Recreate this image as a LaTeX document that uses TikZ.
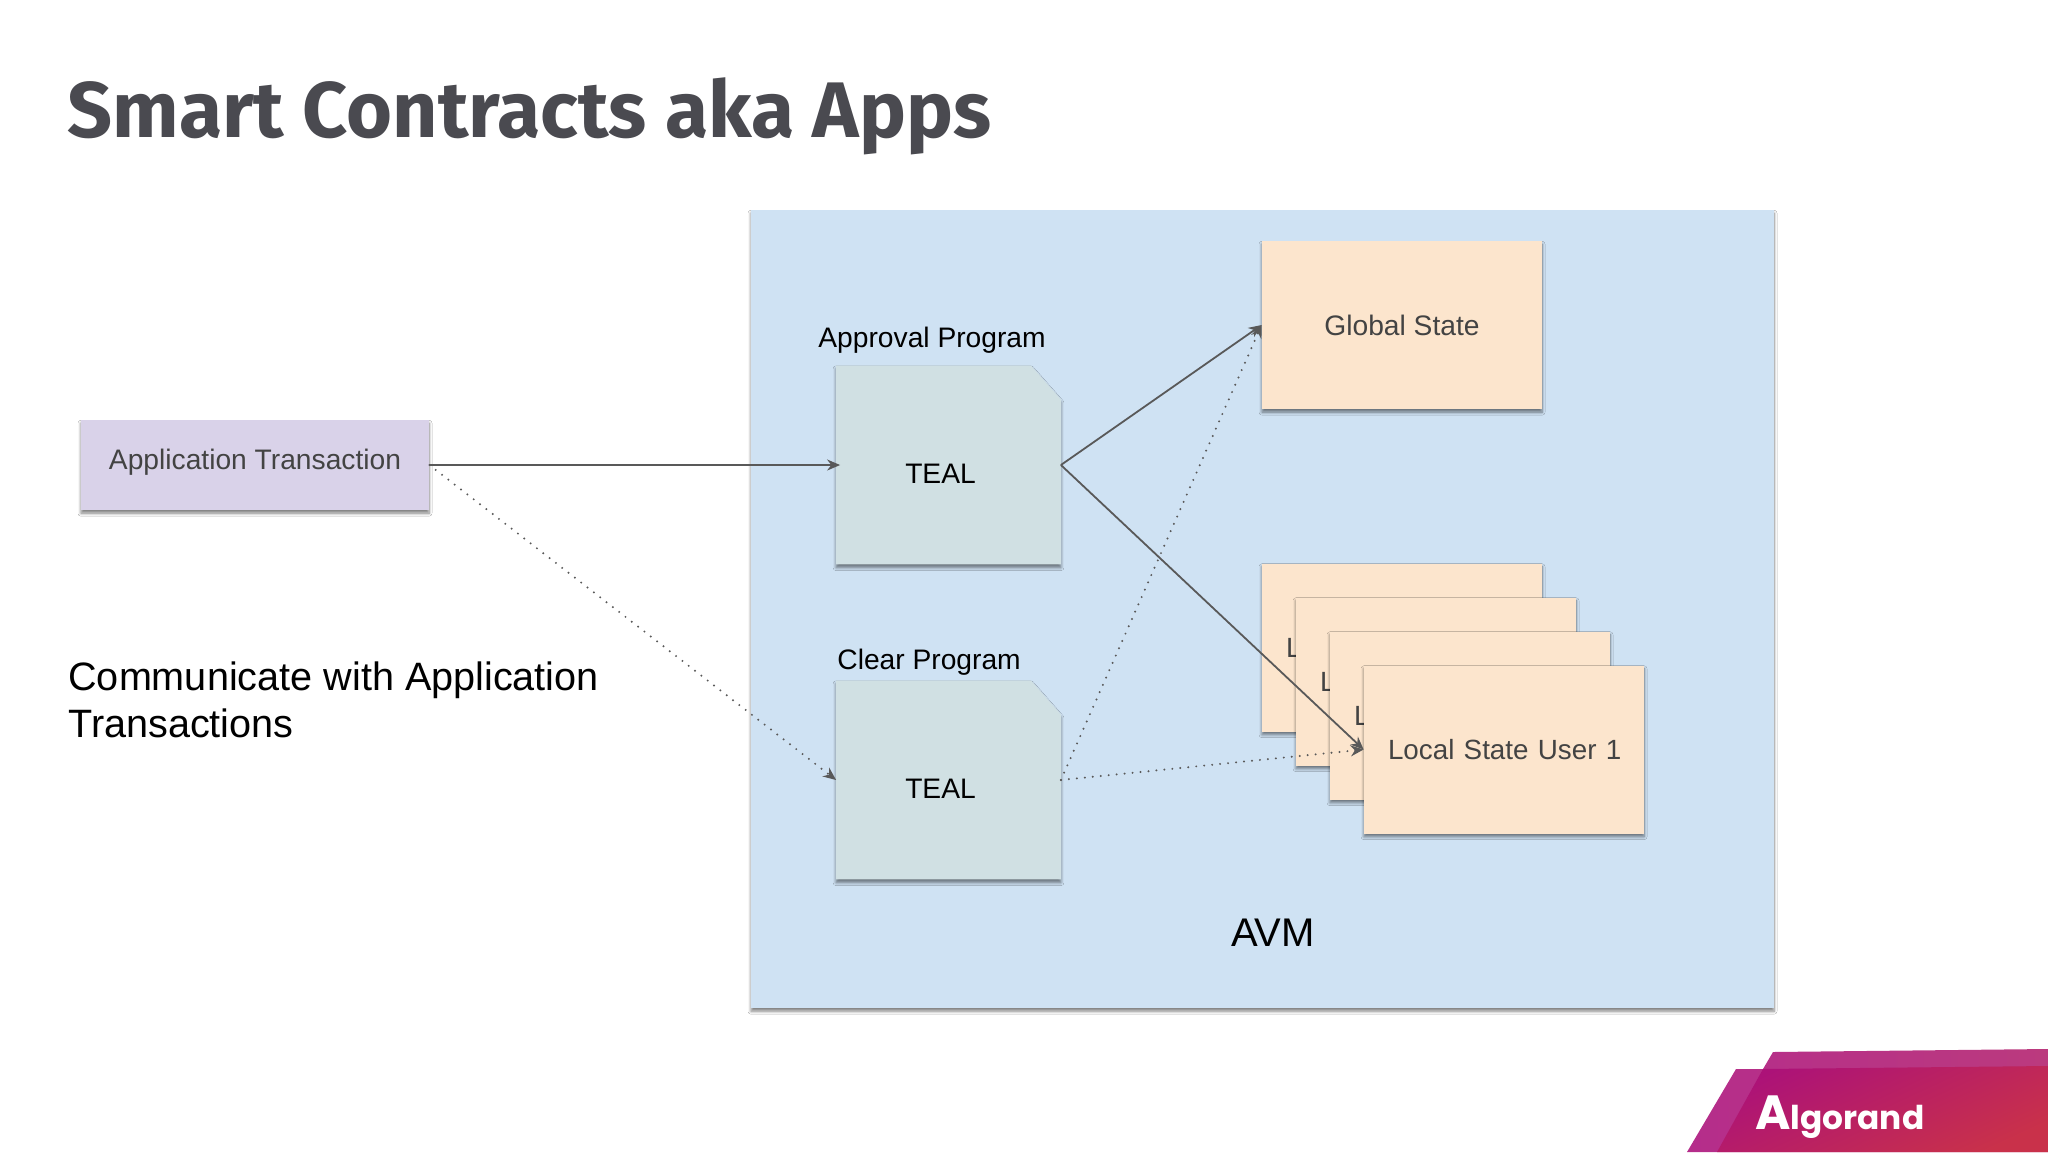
\documentclass[tikz,border=0pt]{standalone}
\usepackage{fontspec}
\setmainfont{Liberation Sans}
\newfontfamily\titlefont{Fira Sans}
\newfontfamily\logofont{Poppins}
\usetikzlibrary{calc}
\usetikzlibrary{positioning}
\usetikzlibrary{arrows.meta}
\usetikzlibrary{shadows.blur}
\definecolor{avmblue}{HTML}{CFE2F3}
\definecolor{txpurple}{HTML}{D9D2E9}
\definecolor{docgreen}{HTML}{D0E0E3}
\definecolor{statepeach}{HTML}{FCE5CD}
\definecolor{boxtext}{HTML}{434343}
\definecolor{titlegray}{HTML}{4A4A50}
\definecolor{arrowgray}{HTML}{595959}
\definecolor{bandtop}{HTML}{B52D8B}
\definecolor{bandend}{HTML}{BB3A7E}
\definecolor{logotop}{HTML}{AC1278}
\definecolor{logomid}{HTML}{B91E66}
\definecolor{logoend}{HTML}{C9314A}
\tikzset{
	softshadow/.style={blur shadow={shadow xshift=0pt, shadow yshift=-1.6pt, shadow blur radius=1.5pt, shadow blur steps=6, shadow opacity=50}},
	flow/.style={draw=arrowgray, line width=0.9pt, -{Stealth[length=6.5pt, width=5.5pt]}},
	dotflow/.style={flow, line width=1.1pt, line cap=round, dash pattern=on 0pt off 4pt},
	plaintext/.style={inner sep=0pt, text=black}
}
\begin{document}
\begin{tikzpicture}[x=0.5pt, y=-0.5pt, font=\fontsize{14.1}{17}\selectfont]
	\tikzstyle{panel}=[rectangle, fill=avmblue, minimum width=511.5pt, minimum height=399pt, inner sep=0pt, softshadow]
	\tikzstyle{txbox}=[rectangle, fill=txpurple, text=boxtext, minimum width=174pt, minimum height=45pt, inner sep=0pt, text depth=5.6pt, softshadow]
	\tikzstyle{docbox}=[rectangle, minimum width=112pt, minimum height=99pt, inner sep=0pt]
	\tikzstyle{statebox}=[rectangle, fill=statepeach, text=boxtext, minimum width=140pt, minimum height=84pt, inner sep=0pt, softshadow]
	\tikzstyle{localbox}=[statebox, align=left, text width=116pt, font=\fontsize{13.9}{17}\selectfont]

	\useasboundingbox (0,0) rectangle (2048,1152);
	\fill[white] (0,0) rectangle (2048,1152);

	\node[anchor=base west, inner sep=0pt, text=titlegray, font=\titlefont\bfseries\fontsize{39.4}{47}\selectfont] (title) at (67,137) {Smart Contracts aka Apps};

	\node[panel] (avm) at (1262.5,609) {};
	\node[plaintext, font=\fontsize{20}{24}\selectfont] (avmlabel) at (1273,933) {AVM};

	\node[txbox] (tx) at (255,465) {Application Transaction};
	\node[plaintext, anchor=west, align=left, font=\fontsize{19.8}{23.5}\selectfont] (note) at (68,700) {Communicate with Application\\Transactions};

	\node[docbox] (approval) at (948.5,465) {};
	\node[docbox] (clear) at (948.5,780) {};
	\foreach \doc in {approval, clear}
		\fill[docgreen, softshadow] (\doc.north west) -- ($(\doc.north east)+(-30,0)$) -- ($(\doc.north east)+(0,34)$) -- (\doc.south east) -- (\doc.south west) -- cycle;
	\node[plaintext] (tealA) at ($(approval)+(-8,9)$) {TEAL};
	\node[plaintext] (tealC) at ($(clear)+(-8,9)$) {TEAL};
	\node[plaintext, anchor=south west] (approvallabel) at (818,354) {Approval Program};
	\node[plaintext, anchor=south west] (clearlabel) at (837,676) {Clear Program};

	\node[statebox] (global) at (1402,325) {Global State};

	% stack of local states, back to front
	\node[localbox] (l4) at (1402,647.5) {L};
	\node[localbox] (l3) at ($(l4)+(34,34)$) {L};
	\node[localbox] (l2) at ($(l3)+(34,34)$) {L};
	\node[localbox] (l1) at ($(l2)+(34,34)$) {\mbox{Local State User 1}};

	\draw[flow, shorten >=-2pt] (tx.east) -- (approval.west);
	\draw[dotflow] (tx.east) -- (clear.west);
	\draw[flow] (approval.east) -- (global.west);
	\draw[flow] (approval.east) -- (l1.west);
	\draw[dotflow] (clear.east) -- (global.west);
	\draw[dotflow] (clear.east) -- (l1.west);

	% logo band
	\shade[left color=bandtop, right color=bandend] (1773,1052) -- (2048,1049) -- (2048,1152) -- (1687,1152) -- (1736,1069) -- (1763,1069) -- cycle;
	\shade[top color=logotop, middle color=logomid, bottom color=logoend, shading angle=25] (1763,1069) -- (2048,1066) -- (2048,1152) -- (1717,1152) -- cycle;
	\node[anchor=base west, inner sep=0pt, text=white, font=\logofont\bfseries\fontsize{16.4}{25}\selectfont] (logo) at (1755,1129) {{\fontsize{24}{25}\selectfont A}lgorand};
\end{tikzpicture}
\end{document}
